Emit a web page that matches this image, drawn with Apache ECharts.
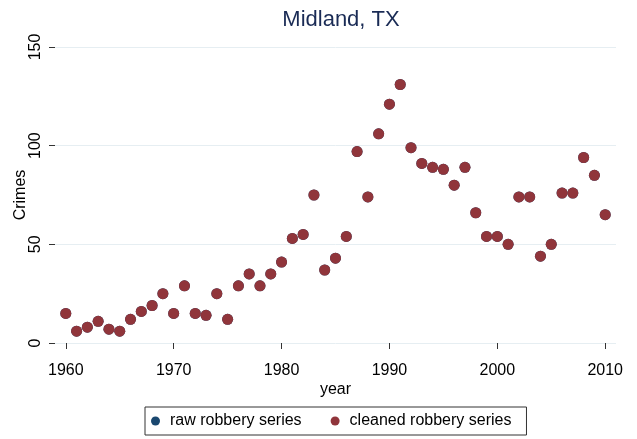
<!DOCTYPE html>
<html>
<head>
<meta charset="utf-8">
<script src="https://cdn.jsdelivr.net/npm/echarts@6/dist/echarts.min.js"></script>
<style>
html,body{margin:0;padding:0;background:#fff;}
#chart{width:637px;height:439px;}
</style>
</head>
<body>
<div id="chart"></div>
<script>
const years = [1960,1961,1962,1963,1964,1965,1966,1967,1968,1969,
  1970,1971,1972,1973,1974,1975,1976,1977,1978,1979,
  1980,1981,1982,1983,1984,1985,1986,1987,1988,1989,
  1990,1991,1992,1993,1994,1995,1996,1997,1998,1999,
  2000,2001,2002,2003,2004,2005,2006,2007,2008,2009,2010];
const rawRobbery = [15,6,8,11,7,6,12,16,19,25,
  15,29,15,14,25,12,29,35,29,35,
  41,53,55,75,37,43,54,97,74,106,
  121,131,99,91,89,88,80,89,66,54,
  54,50,74,74,44,50,76,76,94,85,65];
const cleanedRobbery = [15,6,8,11,7,6,12,16,19,25,
  15,29,15,14,25,12,29,35,29,35,
  41,53,55,75,37,43,54,97,74,106,
  121,131,99,91,89,88,80,89,66,54,
  54,50,74,74,44,50,76,76,94,85,65];
const xTicks = [1960,1970,1980,1990,2000,2010];
const yTicks = [0,50,100,150];

const font = 'Liberation Sans, Arial, Helvetica, sans-serif';
const chart = echarts.init(document.getElementById('chart'), null, {renderer:'canvas'});
chart.setOption({
  animation:false,
  backgroundColor:'#ffffff',
  title:{text:'Midland, TX',left:336,textAlign:'center',top:4,
    textStyle:{fontFamily:font,fontSize:22,fontWeight:'normal',color:'#1a2b55'}},
  grid:{left:55,right:21,top:47,bottom:96,containLabel:false,outerBoundsMode:'none'},
  xAxis:{type:'value',min:1959,max:2011,offset:9,
    name:'year',nameLocation:'middle',nameGap:30,nameMoveOverlap:false,
    nameTextStyle:{fontFamily:font,fontSize:16,color:'#000'},
    axisLine:{show:false},
    axisTick:{show:true,length:6,lineStyle:{color:'#333',width:1},customValues:xTicks},
    axisLabel:{fontFamily:font,fontSize:16,color:'#000',margin:11,customValues:xTicks,
      formatter:v=>String(v)},
    splitLine:{show:false}},
  yAxis:{type:'value',min:0,max:150,interval:50,
    name:'Crimes',nameLocation:'middle',nameGap:26,nameRotate:90,nameMoveOverlap:false,
    nameTextStyle:{fontFamily:font,fontSize:16,color:'#000'},
    axisLine:{show:false},
    axisTick:{show:true,length:6,lineStyle:{color:'#333',width:1}},
    axisLabel:{fontFamily:font,fontSize:16,color:'#000',rotate:90,margin:11,
      customValues:yTicks,formatter:v=>String(v)},
    splitLine:{show:true,lineStyle:{color:'#e6eef2',width:1}}},
  legend:{bottom:4,left:145,orient:'horizontal',
    borderColor:'#333',borderWidth:1,borderRadius:0,padding:[6,15,6,6],
    itemWidth:9,itemHeight:9,itemGap:29,icon:'circle',
    textStyle:{fontFamily:font,fontSize:16,color:'#000',padding:[0,0,0,5]},
    data:['raw robbery series','cleaned robbery series']},
  series:[
    {name:'raw robbery series',type:'scatter',symbol:'circle',symbolSize:11,
      itemStyle:{color:'#1a476f',opacity:1},
      data:years.map((y,i)=>[y,rawRobbery[i]])},
    {name:'cleaned robbery series',type:'scatter',symbol:'circle',symbolSize:11,
      itemStyle:{color:'#90353b',opacity:1},
      data:years.map((y,i)=>[y,cleanedRobbery[i]])}
  ]
});
</script>
</body>
</html>
